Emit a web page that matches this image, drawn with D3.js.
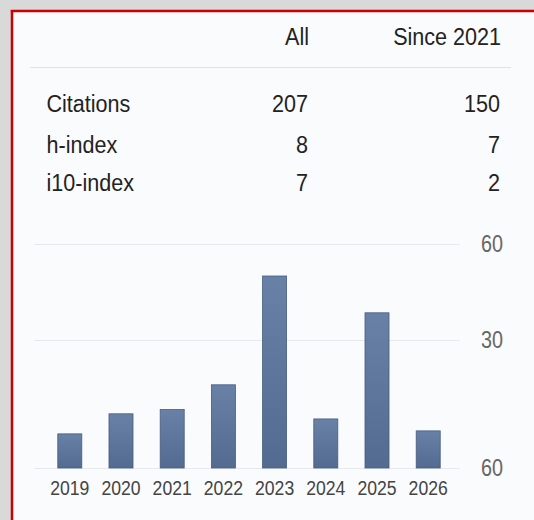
<!DOCTYPE html>
<html>
<head>
<meta charset="utf-8">
<script src="https://cdn.jsdelivr.net/npm/d3@7"></script>
<style>
  body { margin: 0; background: #d9d9d9; }
  svg { display: block; }
</style>
</head>
<body>
<script>
// table
var colHeads = ['All', 'Since 2021'];
var rowNames = ['Citations', 'h-index', 'i10-index'];
var allVals = [207, 8, 7];
var sinceVals = [150, 7, 2];

// chart
var years = ['2019', '2020', '2021', '2022', '2023', '2024', '2025', '2026'];
var cites = [8, 12.7, 13.7, 19.5, 50, 11.5, 38.5, 8.7];
var tickVals = [0, 30, 60];
var tickLabels = ['60', '30', '60'];

var W = 534, H = 520;
var sx = 0.88;

var svg = d3.select('body').append('svg')
    .attr('width', W)
    .attr('height', H);

var defs = svg.append('defs');
var grad = defs.append('linearGradient')
    .attr('id', 'barFill')
    .attr('x1', 0).attr('y1', 0).attr('x2', 0).attr('y2', 1);
grad.append('stop').attr('offset', '0%').attr('stop-color', '#6981a7');
grad.append('stop').attr('offset', '100%').attr('stop-color', '#536a91');

// panel + red border
svg.append('rect')
    .attr('x', 12).attr('y', 11)
    .attr('width', W).attr('height', H)
    .attr('fill', '#fafbfd');
svg.append('line')
    .attr('x1', 12).attr('x2', 12).attr('y1', 10).attr('y2', H)
    .attr('stroke', '#cc0000').attr('stroke-width', 2.5);
svg.append('line')
    .attr('x1', 10.8).attr('x2', W).attr('y1', 11).attr('y2', 11)
    .attr('stroke', '#cc0000').attr('stroke-width', 2.5);

function txt(x, y, s, size, anchor, fill, squeeze) {
    return svg.append('text')
        .attr('transform', 'translate(' + x + ',' + y + ') scale(' + (squeeze || sx) + ',1)')
        .attr('text-anchor', anchor)
        .attr('font-family', 'Liberation Sans, Arial, sans-serif')
        .attr('font-size', size)
        .attr('fill', fill)
        .text(s);
}

// header
var colX = [309, 501];
colHeads.forEach(function (h, i) {
    txt(colX[i], 45, h, 24.5, 'end', '#222');
});
svg.append('line')
    .attr('x1', 30).attr('x2', 511).attr('y1', 67.5).attr('y2', 67.5)
    .attr('stroke', '#e2e2e2').attr('stroke-width', 1.2);

var rowY = [111.5, 152.5, 191];
rowNames.forEach(function (r, i) {
    txt(46.5, rowY[i], r, 24.5, 'start', '#222');
    txt(colX[0] - 1, rowY[i], allVals[i], 24.5, 'end', '#222');
    txt(colX[1] - 1, rowY[i], sinceVals[i], 24.5, 'end', '#222');
});

// scales
var x = d3.scaleBand()
    .domain(years)
    .range([30.6, 467.4])
    .paddingInner(0.531)
    .paddingOuter(0.531);

var y = d3.scaleLinear()
    .domain(tickVals)
    .range([468, 340, 244]);

// grid
svg.append('g')
    .selectAll('line')
    .data(tickVals)
    .join('line')
    .attr('x1', 34).attr('x2', 460)
    .attr('y1', function (d) { return y(d) + 0.5; })
    .attr('y2', function (d) { return y(d) + 0.5; })
    .attr('stroke', '#e8e9ec')
    .attr('stroke-width', 1.2);

// bars
svg.append('g')
    .selectAll('rect')
    .data(cites)
    .join('rect')
    .attr('x', function (d, i) { return x(years[i]); })
    .attr('y', function (d) { return y(d); })
    .attr('width', x.bandwidth())
    .attr('height', function (d) { return y(0) - y(d); })
    .attr('fill', 'url(#barFill)')
    .attr('stroke', '#465c82')
    .attr('stroke-width', 0.8);

// year labels
years.forEach(function (yr) {
    txt(x(yr) + x.bandwidth() / 2, 494.5, yr, 20.5, 'middle', '#444', 0.86);
});

// y tick labels
tickVals.forEach(function (t, i) {
    txt(503, y(t) + 8.3, tickLabels[i], 23, 'end', '#666', 0.86);
});
</script>
</body>
</html>
